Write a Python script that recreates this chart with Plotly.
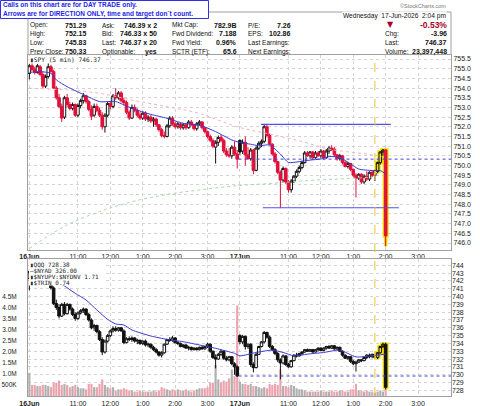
import plotly.graph_objects as go

# ------------------------------------------------------------------ data
# 5-minute bars: index 0 = 16-Jun 9:30 ... 77 = 16-Jun 3:55, 78 = 17-Jun 9:30 ... 132 = 17-Jun 2:00
tick_pos = [0, 18, 30, 42, 54, 66, 78, 96, 108, 120, 132, 144]
tick_text = ["<b>16Jun</b>", "11:00", "12:00", "1:00", "2:00", "3:00",
             "<b>17Jun</b>", "11:00", "12:00", "1:00", "2:00", "3:00"]

spy_open = [
    754.75, 755.15, 754.95, 754.80, 755.10, 754.70, 754.10, 754.60, 755.10, 754.85,
    754.00, 753.50, 753.05, 752.50, 753.50, 753.15, 752.95, 753.15, 752.60, 753.10,
    753.35, 753.60, 753.30, 752.90, 752.60, 753.05, 752.85, 752.60, 752.00, 752.60,
    753.20, 753.05, 753.60, 753.50, 753.75, 753.35, 753.25, 752.75, 752.45, 753.00,
    752.85, 752.60, 752.45, 752.70, 752.40, 752.50, 752.30, 752.40, 752.10, 751.85,
    751.55, 751.50, 752.05, 752.45, 752.15, 752.00, 752.15, 751.95, 752.10, 751.95,
    752.25, 752.10, 751.90, 752.15, 752.25, 751.95, 751.75, 751.50, 751.30, 750.95,
    751.20, 751.45, 751.30, 750.75, 750.55, 750.50, 750.95, 750.60,
    751.29, 750.75, 751.20, 750.55, 750.35, 750.80, 749.75, 750.90, 751.15, 751.25,
    752.00, 751.55, 751.10, 750.60, 750.20, 749.65, 749.25, 749.85, 749.15, 748.75,
    749.20, 749.45, 749.70, 749.90, 750.15, 750.65, 750.50, 750.70, 750.40, 750.65,
    750.50, 750.75, 750.40, 750.75, 750.90, 750.85, 750.55, 750.35, 750.50, 750.15,
    749.95, 750.10, 749.80, 749.50, 749.35, 749.55, 749.15, 749.45, 749.30, 749.65,
    749.50, 749.70, 750.15, 750.70, 750.80]
spy_high = [
    755.25, 755.30, 755.10, 755.25, 755.20, 754.85, 754.70, 755.30, 755.20, 754.95,
    754.10, 753.70, 753.20, 753.60, 753.70, 753.30, 753.25, 753.20, 753.20, 753.45,
    753.75, 753.65, 753.40, 753.10, 753.20, 753.20, 753.00, 752.75, 752.70, 753.30,
    753.35, 753.70, 754.00, 753.85, 753.85, 753.50, 753.35, 752.85, 753.15, 753.15,
    752.95, 752.75, 752.80, 752.80, 752.60, 752.60, 752.50, 752.45, 752.15, 751.95,
    751.75, 752.15, 752.55, 752.55, 752.25, 752.25, 752.20, 752.20, 752.20, 752.35,
    752.35, 752.15, 752.25, 752.35, 752.30, 752.00, 751.80, 751.60, 751.40, 751.30,
    751.55, 751.60, 751.40, 750.90, 750.90, 751.05, 751.25, 750.80,
    751.35, 751.35, 751.50, 750.95, 750.90, 750.85, 751.00, 751.25, 751.35, 752.15,
    752.10, 751.65, 751.15, 750.70, 750.25, 749.75, 749.95, 749.90, 749.25, 749.30,
    749.50, 749.80, 750.00, 750.25, 750.75, 750.75, 750.75, 750.75, 750.75, 750.75,
    750.85, 750.80, 750.85, 751.00, 751.05, 750.95, 750.60, 750.60, 750.55, 750.25,
    750.20, 750.15, 749.85, 749.60, 749.60, 749.60, 749.55, 749.70, 749.70, 749.75,
    749.80, 750.20, 750.75, 750.85, 750.85]
spy_low = [
    754.45, 754.90, 754.70, 754.75, 754.60, 754.00, 754.00, 754.50, 754.80, 753.95,
    753.40, 752.95, 752.25, 752.40, 753.00, 752.85, 752.85, 752.50, 752.50, 752.95,
    753.20, 753.20, 752.80, 752.35, 752.50, 752.75, 752.50, 751.85, 751.70, 752.50,
    752.90, 752.95, 753.40, 753.40, 753.25, 753.10, 752.65, 752.35, 752.40, 752.75,
    752.50, 752.35, 752.35, 752.30, 752.25, 752.20, 752.00, 752.00, 751.75, 751.45,
    751.40, 751.45, 751.95, 752.05, 751.90, 751.90, 751.85, 751.85, 751.85, 751.90,
    752.05, 751.80, 751.80, 752.05, 751.85, 751.65, 751.40, 751.20, 750.90, 750.10,
    751.00, 751.20, 750.65, 750.45, 750.40, 750.35, 750.50, 749.85,
    750.55, 750.60, 750.00, 750.30, 750.25, 749.55, 749.70, 750.80, 750.95, 751.15,
    751.45, 751.05, 750.50, 750.10, 749.55, 747.80, 749.10, 749.05, 748.60, 748.60,
    749.10, 749.35, 749.60, 749.80, 750.10, 750.45, 750.35, 750.30, 750.35, 750.45,
    750.40, 750.30, 750.35, 750.60, 750.75, 750.45, 750.25, 750.25, 750.05, 749.90,
    749.85, 749.70, 749.40, 748.35, 749.25, 749.05, 749.05, 749.20, 749.20, 749.40,
    749.20, 749.60, 750.05, 750.50, 745.83]
spy_close = [
    755.15, 754.95, 754.80, 755.15, 754.70, 754.10, 754.60, 755.10, 754.85, 754.00,
    753.50, 753.05, 752.45, 753.50, 753.15, 752.95, 753.15, 752.60, 753.10, 753.35,
    753.60, 753.30, 752.90, 752.55, 753.05, 752.85, 752.60, 752.00, 752.60, 753.20,
    753.05, 753.60, 753.50, 753.75, 753.35, 753.25, 752.75, 752.45, 753.00, 752.85,
    752.60, 752.45, 752.70, 752.40, 752.50, 752.30, 752.40, 752.10, 751.85, 751.55,
    751.50, 752.05, 752.45, 752.15, 752.00, 752.15, 751.95, 752.10, 751.95, 752.25,
    752.10, 751.90, 752.15, 752.25, 751.95, 751.75, 751.50, 751.30, 751.00, 751.20,
    751.45, 751.30, 750.75, 750.55, 750.50, 750.95, 750.60, 750.33,
    750.70, 751.20, 750.55, 750.35, 750.80, 749.75, 750.90, 751.15, 751.25, 752.00,
    751.55, 751.10, 750.60, 750.20, 749.65, 749.25, 749.85, 749.15, 748.75, 749.20,
    749.45, 749.70, 749.90, 750.15, 750.65, 750.50, 750.70, 750.40, 750.65, 750.50,
    750.75, 750.40, 750.75, 750.90, 750.85, 750.55, 750.35, 750.50, 750.15, 749.95,
    750.10, 749.80, 749.50, 749.35, 749.55, 749.15, 749.45, 749.30, 749.65, 749.50,
    749.70, 750.15, 750.70, 750.80, 746.37]

qqq_open = [
    742.30, 743.20, 742.80, 742.50, 743.20, 742.50, 741.80, 742.60, 743.20, 741.10,
    739.10, 738.60, 737.50, 739.00, 737.80, 739.00, 738.40, 737.70, 737.20, 737.90,
    738.20, 738.40, 737.70, 737.00, 736.00, 736.30, 735.50, 734.50, 732.90, 734.30,
    735.00, 735.60, 735.90, 735.70, 736.00, 735.60, 734.10, 734.60, 734.50, 734.70,
    734.30, 734.40, 734.00, 734.30, 733.80, 733.90, 733.50, 733.20, 732.90, 732.50,
    732.80, 733.90, 734.50, 734.40, 734.70, 734.10, 734.00, 733.60, 733.80, 733.40,
    733.50, 733.20, 733.40, 733.20, 733.50, 733.30, 733.60, 733.90, 733.00, 732.20,
    732.00, 732.60, 733.00, 732.10, 731.90, 732.30, 731.40, 731.00,
    735.00, 734.20, 734.90, 733.60, 733.90, 731.30, 730.90, 732.60, 733.60, 734.20,
    735.40, 734.80, 733.60, 733.20, 732.70, 731.90, 731.50, 732.40, 731.30, 731.00,
    731.80, 732.50, 732.40, 732.70, 732.90, 733.20, 733.00, 733.20, 732.90, 733.20,
    733.40, 733.10, 733.40, 733.60, 733.40, 733.70, 733.30, 733.50, 733.00, 732.50,
    732.10, 732.30, 731.70, 731.40, 731.60, 731.90, 731.80, 732.20, 732.50, 732.30,
    732.60, 732.20, 732.80, 733.60, 733.90]
qqq_high = [
    743.50, 743.60, 743.20, 743.40, 743.40, 742.70, 742.80, 743.50, 743.30, 741.30,
    739.60, 739.00, 739.20, 739.30, 739.20, 739.10, 738.60, 738.00, 738.10, 738.40,
    738.60, 738.50, 737.90, 737.20, 736.50, 736.40, 735.70, 734.80, 734.50, 735.20,
    735.80, 736.20, 736.20, 736.10, 736.10, 735.80, 734.80, 734.90, 734.90, 734.80,
    734.60, 734.50, 734.40, 734.50, 734.10, 734.00, 733.70, 733.40, 733.00, 733.00,
    734.00, 734.60, 734.80, 734.95, 734.80, 734.30, 734.10, 733.90, 733.90, 733.70,
    733.60, 733.50, 733.50, 733.60, 733.70, 733.70, 734.10, 734.00, 733.10, 732.60,
    732.80, 733.20, 733.10, 732.40, 732.40, 732.40, 731.60, 731.20,
    735.20, 735.10, 735.00, 734.00, 734.00, 731.60, 732.80, 733.70, 734.30, 735.60,
    735.50, 735.00, 733.80, 733.40, 732.90, 732.10, 732.60, 732.50, 731.50, 731.90,
    732.60, 732.80, 732.80, 733.00, 733.30, 733.35, 733.30, 733.30, 733.30, 733.50,
    733.50, 733.50, 733.70, 733.80, 733.80, 733.80, 733.60, 733.60, 733.10, 732.60,
    732.40, 732.40, 731.90, 731.80, 732.00, 732.00, 732.30, 732.60, 732.70, 732.70,
    732.70, 732.90, 733.70, 734.10, 734.10]
qqq_low = [
    740.80, 742.60, 742.30, 742.40, 742.30, 741.60, 741.60, 742.40, 740.90, 738.90,
    738.30, 737.20, 737.40, 737.60, 737.70, 738.20, 737.50, 736.90, 737.00, 737.70,
    737.90, 737.50, 736.80, 735.80, 735.60, 735.30, 734.30, 732.50, 732.70, 734.10,
    734.80, 735.40, 735.50, 735.50, 735.50, 733.90, 734.00, 734.30, 734.20, 734.10,
    733.90, 733.80, 733.80, 733.60, 733.50, 733.30, 733.00, 732.70, 732.30, 732.20,
    732.70, 733.80, 734.20, 734.20, 734.00, 733.80, 733.50, 733.40, 733.30, 733.10,
    733.10, 733.10, 733.10, 733.10, 733.20, 733.20, 733.40, 732.80, 732.00, 730.80,
    731.90, 732.40, 731.90, 731.70, 731.70, 731.20, 730.00, 729.70,
    733.90, 733.90, 733.20, 733.30, 731.00, 730.30, 730.80, 732.50, 733.50, 734.00,
    734.60, 733.40, 733.00, 732.50, 731.60, 729.40, 731.30, 731.10, 730.90, 730.90,
    731.70, 732.20, 732.30, 732.50, 732.80, 732.90, 732.90, 732.80, 732.85, 733.00,
    733.00, 733.00, 733.20, 733.30, 733.30, 733.20, 733.10, 732.90, 732.30, 732.00,
    731.90, 731.50, 731.20, 730.40, 731.50, 731.60, 731.70, 732.00, 732.10, 732.10,
    732.00, 732.00, 732.70, 733.40, 728.10]
qqq_close = [
    743.20, 742.80, 742.50, 743.20, 742.50, 741.80, 742.60, 743.20, 741.10, 739.10,
    738.60, 737.50, 739.00, 737.80, 739.00, 738.40, 737.70, 737.20, 737.90, 738.20,
    738.40, 737.70, 737.00, 736.00, 736.30, 735.50, 734.50, 732.90, 734.30, 735.00,
    735.60, 735.90, 735.70, 736.00, 735.60, 734.10, 734.60, 734.50, 734.70, 734.30,
    734.40, 734.00, 734.30, 733.80, 733.90, 733.50, 733.20, 732.90, 732.50, 732.80,
    733.90, 734.50, 734.40, 734.70, 734.10, 734.00, 733.60, 733.80, 733.40, 733.50,
    733.20, 733.40, 733.20, 733.50, 733.30, 733.60, 733.90, 733.00, 732.20, 732.00,
    732.60, 733.00, 732.10, 731.90, 732.30, 731.40, 731.00, 729.85,
    734.20, 734.90, 733.60, 733.90, 731.30, 730.90, 732.60, 733.60, 734.20, 735.40,
    734.80, 733.60, 733.20, 732.70, 731.90, 731.50, 732.40, 731.30, 731.00, 731.80,
    732.50, 732.40, 732.70, 732.90, 733.20, 733.00, 733.20, 732.90, 733.20, 733.40,
    733.10, 733.40, 733.60, 733.40, 733.70, 733.30, 733.50, 733.00, 732.50, 732.10,
    732.30, 731.70, 731.40, 731.60, 731.90, 731.80, 732.20, 732.50, 732.30, 732.60,
    732.20, 732.80, 733.60, 733.90, 728.38]

volume_m = [
    1.05, 0.50, 0.50, 0.45, 0.45, 0.50, 0.50, 0.45, 0.40, 0.60,
    0.60, 0.70, 0.50, 0.55, 0.50, 0.40, 0.45, 0.50, 0.40, 0.35,
    0.35, 0.30, 0.55, 0.55, 0.40, 0.40, 0.55, 0.75, 0.50, 0.40,
    0.35, 0.40, 0.25, 0.30, 0.30, 0.35, 0.30, 0.25, 0.25, 0.20,
    0.20, 0.25, 0.20, 0.20, 0.20, 0.20, 0.25, 0.20, 0.25, 0.40,
    0.35, 0.30, 0.25, 0.30, 0.25, 0.30, 0.25, 0.25, 0.30, 0.25,
    0.20, 0.25, 0.30, 0.35, 0.35, 0.35, 0.40, 0.60, 0.60, 1.40,
    0.75, 0.60, 0.70, 0.65, 0.80, 1.20, 0.90, 4.10,
    0.65, 0.55, 0.55, 0.50, 0.55, 0.45, 0.45, 0.40, 0.35, 0.40,
    0.35, 0.55, 0.50, 0.55, 0.50, 1.20, 0.45, 0.45, 0.40, 0.50,
    0.45, 0.35, 0.30, 0.30, 0.25, 0.20, 0.20, 0.20, 0.20, 0.20,
    0.25, 0.20, 0.20, 0.20, 0.25, 0.20, 0.20, 0.25, 0.25, 0.20,
    0.20, 0.30, 0.30, 0.55, 0.25, 0.25, 0.20, 0.25, 0.20, 0.20,
    0.15, 0.20, 0.25, 0.20, 0.30]

# overlays (read at sample bars)
spy_sma_x = [0, 4, 8, 10, 14, 20, 26, 32, 38, 45, 51, 57, 63, 69, 75, 78, 82, 85, 89, 93,
             96, 100, 104, 108, 111, 115, 119, 122, 127, 130, 132]
spy_sma = [754.81, 754.85, 754.76, 754.42, 754.07, 753.67, 753.30, 753.30, 752.95, 752.64,
           752.44, 752.18, 752.09, 751.75, 751.32, 751.19, 751.10, 751.02, 751.06, 750.59,
           750.16, 750.20, 750.28, 750.34, 750.46, 750.42, 750.08, 749.82, 749.74, 749.74, 749.56]
spy_pink_x = [0, 14, 26, 38, 51, 63, 77, 90, 102, 111, 127, 131]
spy_pink = [753.99, 753.90, 753.73, 753.38, 753.04, 752.69, 752.00, 751.60, 751.20, 750.85, 750.55, 750.45]
spy_green_x = [0, 14, 26, 38, 51, 63, 77, 90, 103, 115, 127]
spy_green = [745.72, 746.93, 747.62, 748.13, 748.51, 748.74, 748.96, 749.08, 749.22, 749.31, 749.39]
qqq_sma_x = [0, 6, 10, 13, 17, 21, 25, 29, 32, 35, 38, 45, 51, 57, 63, 69, 76, 78, 84, 90,
             94, 98, 103, 109, 115, 121, 127, 132]
qqq_sma = [742.6, 742.5, 741.9, 741.35, 740.41, 739.56, 738.28, 737.08, 736.49, 736.36,
           735.72, 734.95, 734.52, 734.22, 733.8, 733.37, 732.73, 732.41, 732.84, 733.14,
           732.84, 732.41, 732.63, 732.84, 733.14, 732.28, 732.41, 732.63]

spy_prev_close = 750.33
qqq_prev_close = 729.83
trend_levels = [752.12, 747.82]
trend_from = [85.8, 86.5]
trend_to = [133.9, 136.9]
signal_bar = 128
highlight_bars = [129, 130, 131, 132]

header_cols = [
    (["Open:", "High:", "Low:", "Prev Close:"], ["751.29", "752.15", "745.83", "750.33"]),
    (["Ask:", "Bid:", "Last:", "Optionable:"], ["746.39 x 2", "746.33 x 50", "746.37 x 20", "yes"]),
    (["Mkt Cap:", "Fwd Dividend:", "Fwd Yield:", "SCTR (ETF):"], ["782.9B", "7.188", "0.96%", "65.6"]),
    (["P/E:", "EPS:", "Last Earnings:", "Next Earnings:"], ["7.26", "102.86", "", ""]),
    (["", "Chg:", "Last:", "Volume:"], ["-0.53%", "-3.96", "746.37", "23,397,448"]),
]
vol_tick_vals = [0.5, 1.0, 1.5, 2.0, 2.5, 3.0, 3.5, 4.0, 4.5]
vol_tick_text = ["500K", "1.0M", "1.5M", "2.0M", "2.5M", "3.0M", "3.5M", "4.0M", "4.5M"]

# ------------------------------------------------------------------ layout helpers
L, R, T, B = 28, 451, 55, 396
W, H = R - L, B - T
X0, X1 = -0.5, 156.2
def xp(x): return (x - L) / W
def yp(y): return (B - y) / H
def xd(i): return (i - X0) / (X1 - X0)

FONT = "Liberation Sans, Arial, sans-serif"
MONO = "DejaVu Sans Mono, monospace"
RED = "#e0103a"
BLACK = "#111111"
YEL = "#f3e000"
GRID = "#d4d4d4"
BORDER = "#a0a0a0"
BLUE_LINE = "#3a3ad0"

n = len(spy_close)
idx = list(range(n))
hl = set(highlight_bars)

def sub(arr, ids):
    return [arr[i] for i in ids]

def prev_close(c, o, i):
    return c[i - 1] if i > 0 else o[i]

spy_red = [i for i in idx if i not in hl and spy_close[i] < prev_close(spy_close, spy_open, i)]
red_set = set(spy_red)
spy_blk = [i for i in idx if i not in hl and i not in red_set]
qqq_norm = [i for i in idx if i not in hl]
hl_list = [i for i in idx if i in hl]

fig = go.Figure()

def candle(ids, o, h, l, c, xa, ya, inc_line, inc_fill, dec_line, dec_fill, lw=1):
    return go.Candlestick(
        x=ids, open=sub(o, ids), high=sub(h, ids), low=sub(l, ids), close=sub(c, ids),
        xaxis=xa, yaxis=ya, whiskerwidth=0,
        increasing=dict(line=dict(color=inc_line, width=lw), fillcolor=inc_fill),
        decreasing=dict(line=dict(color=dec_line, width=lw), fillcolor=dec_fill),
        hoverinfo="skip", showlegend=False)

def hline(y, x0, x1, xa, ya, color, dash=None, width=1):
    return go.Scatter(x=[x0, x1], y=[y, y], mode="lines", xaxis=xa, yaxis=ya,
                      line=dict(color=color, width=width, dash=dash), hoverinfo="skip")

# --- main panel (SPY)
fig.add_trace(go.Scatter(x=spy_green_x, y=spy_green, mode="lines", xaxis="x", yaxis="y",
                         line=dict(color="#a8d8a8", width=1, dash="dot", shape="spline"),
                         hoverinfo="skip"))
fig.add_trace(go.Scatter(x=spy_pink_x, y=spy_pink, mode="lines", xaxis="x", yaxis="y",
                         line=dict(color="#f2b4bc", width=1, dash="dot", shape="spline"),
                         hoverinfo="skip"))
fig.add_trace(hline(spy_prev_close, 77.5, X1, "x", "y", "#4040e0", "dot"))
fig.add_trace(candle(spy_blk, spy_open, spy_high, spy_low, spy_close, "x", "y",
                     BLACK, "white", BLACK, BLACK))
fig.add_trace(candle(spy_red, spy_open, spy_high, spy_low, spy_close, "x", "y",
                     RED, "white", RED, RED))
fig.add_trace(candle(hl_list, spy_open, spy_high, spy_low, spy_close, "x", "y",
                     YEL, YEL, YEL, YEL, lw=3.5))
fig.add_trace(candle(hl_list, spy_open, spy_high, spy_low, spy_close, "x", "y",
                     BLACK, YEL, RED, RED))
fig.add_trace(go.Scatter(x=spy_sma_x, y=spy_sma, mode="lines", xaxis="x", yaxis="y",
                         line=dict(color=BLUE_LINE, width=1, shape="spline", smoothing=0.6),
                         hoverinfo="skip"))
for lvl, a, b in zip(trend_levels, trend_from, trend_to):
    fig.add_trace(hline(lvl, a, b, "x", "y", "#5050e8", None, 1.2))

# --- lower panel (volume on y2 / QQQ on y3)
prevs = [prev_close(spy_close, spy_open, i) for i in idx]
vol_colors = ["#eba4ae" if spy_close[i] < prevs[i] else "#b0b0b0" for i in idx]
fig.add_trace(go.Bar(x=idx, y=[v * 1e6 for v in volume_m], xaxis="x2", yaxis="y2",
                     marker=dict(color=vol_colors, line=dict(width=0)), hoverinfo="skip"))
fig.add_trace(hline(qqq_prev_close, 77.5, X1, "x2", "y3", "#4040e0", "dot"))
fig.add_trace(candle(qqq_norm, qqq_open, qqq_high, qqq_low, qqq_close, "x2", "y3",
                     BLACK, "white", BLACK, BLACK))
fig.add_trace(candle(hl_list, qqq_open, qqq_high, qqq_low, qqq_close, "x2", "y3",
                     YEL, YEL, YEL, YEL, lw=3.5))
fig.add_trace(candle(hl_list, qqq_open, qqq_high, qqq_low, qqq_close, "x2", "y3",
                     BLACK, YEL, BLACK, BLACK))
fig.add_trace(go.Scatter(x=qqq_sma_x, y=qqq_sma, mode="lines", xaxis="x2", yaxis="y3",
                         line=dict(color=BLUE_LINE, width=1, shape="spline", smoothing=0.6),
                         hoverinfo="skip"))

axis_common = dict(showgrid=True, gridcolor=GRID, griddash="dot", gridwidth=1,
                   showline=True, linecolor=BORDER, linewidth=1, mirror=True, automargin=False,
                   zeroline=False, ticks="", tickfont=dict(family=FONT, size=7, color="#222"))

fig.update_layout(
    width=480, height=406, margin=dict(l=L, r=480 - R, t=T, b=406 - B, autoexpand=False),
    paper_bgcolor="white", plot_bgcolor="white", showlegend=False,
    boxgap=0.05, boxgroupgap=0.0, bargap=0.2,
    xaxis=dict(axis_common, domain=[0, 1], range=[X0, X1], anchor="y",
               tickmode="array", tickvals=tick_pos, ticktext=tick_text, ticklabelstandoff=0,
               rangeslider=dict(visible=False)),
    xaxis2=dict(axis_common, domain=[0, 1], range=[X0, X1], anchor="y2", matches="x",
                tickmode="array", tickvals=tick_pos, ticktext=tick_text, ticklabelstandoff=1,
                rangeslider=dict(visible=False)),
    yaxis=dict(axis_common, domain=[yp(250), 1], range=[745.6386, 755.7065], side="right",
               tick0=746, dtick=0.5, tickformat=".1f", anchor="x"),
    yaxis2=dict(axis_common, domain=[0, yp(259)], range=[0, 6.205e6], side="left",
                showgrid=False, tickmode="array", tickvals=[v * 1e6 for v in vol_tick_vals],
                ticktext=vol_tick_text, anchor="x2", ticklabelstandoff=9,
                tickfont=dict(family=FONT, size=6.5, color="#222")),
    yaxis3=dict(axis_common, overlaying="y2", range=[727.27, 744.806], side="right",
                tick0=728, dtick=1, anchor="x2", showline=False),
)

# --- shapes (paper coordinates only)
shapes = []
shapes.append(dict(type="line", xref="paper", yref="paper", x0=xd(signal_bar), x1=xd(signal_bar),
                   y0=0, y1=1, line=dict(color="#f0c030", width=1, dash="dash"), layer="above"))
# legend background boxes
shapes.append(dict(type="rect", xref="paper", yref="paper", x0=xp(29), x1=xp(104), y0=yp(56), y1=yp(63.5),
                   fillcolor="white", line=dict(width=0), layer="above"))
shapes.append(dict(type="rect", xref="paper", yref="paper", x0=xp(29), x1=xp(103), y0=yp(260), y1=yp(285.5),
                   fillcolor="white", line=dict(width=0), layer="above"))
# header box
for (xa, ya, xb, yb) in [(L, 12, R, 12), (L, 12, L, T), (R, 12, R, T)]:
    shapes.append(dict(type="line", xref="paper", yref="paper", x0=xp(xa), x1=xp(xb), y0=yp(ya), y1=yp(yb),
                       line=dict(color=BORDER, width=1), layer="above"))
# callout box
shapes.append(dict(type="rect", xref="paper", yref="paper", x0=xp(0.5), x1=xp(208.5), y0=yp(0.5), y1=yp(18.5),
                   fillcolor="white", line=dict(color="#3030e0", width=1), layer="above"))
fig.update_layout(shapes=shapes)

def ann(x, y, text, size=7, bold=False, color="#111", anchor="left", family=FONT, bg=None):
    fig.add_annotation(xref="paper", yref="paper", x=xp(x), y=yp(y), text=("<b>%s</b>" % text) if bold else text,
                       showarrow=False, xanchor=anchor, yanchor="middle", borderpad=0,
                       font=dict(family=family, size=size, color=color),
                       bgcolor=bg)

# callout
ann(2, 5.5, "Calls on this chart are for DAY TRADE only.", size=6.5, bold=True, color="#1e1ee6")
ann(2, 13.5, "Arrows are for DIRECTION ONLY, time and target don`t count.", size=6.5, bold=True, color="#1e1ee6")

# header
ann(447, 6.5, "©StockCharts.com", size=5.5, color="#777", anchor="right")
ann(447, 16, "Wednesday\u00a0\u00a017-Jun-2026\u00a0\u00a02:04 pm", size=6.6, anchor="right", bg="white")
rows_y = [25, 33.5, 42.5, 51.5]
col_label_x = [29, 100.5, 170.5, 246.5, 384]
col_value_x = [87.5, 158, 238, 292, 447.5]
for (labels, values), lx, vx in zip(header_cols, col_label_x, col_value_x):
    for k, (lab, val) in enumerate(zip(labels, values)):
        if lab:
            ann(lx, rows_y[k], lab, size=6.5)
        if val:
            if val.endswith("%") and val.startswith("-"):
                ann(vx, rows_y[k], val, size=8.5, bold=True, color="#a8002c", anchor="right")
            else:
                ann(vx, rows_y[k], val, size=7, bold=True, anchor="right")
ann(390, 24.5, "▼", size=8, color="#a8002c", anchor="center", family="DejaVu Sans")

# panel legends
ann(29, 60, "▮SPY (5 min) 746.37", size=6.2, family=MONO, color="#222")
legend_lines = ["▮QQQ 728.38", "—$NYAD 326.00", "▮$NYUPV:$NYDNV 1.71", "▮$TRIN 0.74"]
for k, t in enumerate(legend_lines):
    ann(29, 264 + k * 6.3, t, size=6.0, family=MONO, color="#222")

fig.write_html("out.html", config={"displayModeBar": False})
